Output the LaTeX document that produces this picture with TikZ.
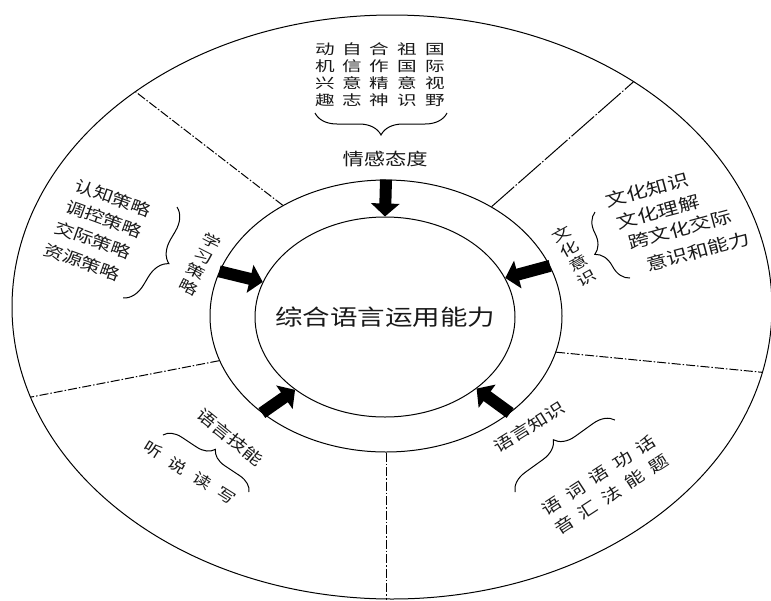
\documentclass[tikz,border=0pt]{standalone}
\usepackage{fontspec}
\newfontfamily\cjk[FakeStretch=1.25]{Noto Sans CJK SC}
\newfontfamily\cjkw[FakeStretch=1.4]{Noto Sans CJK SC}
\usetikzlibrary{shapes.geometric,arrows.meta,decorations.pathreplacing}
\begin{document}
\begin{tikzpicture}[x=1pt,y=-1pt,
  ln/.style={line width=1pt, draw=black},
  divider/.style={line width=1pt, dash pattern=on 9pt off 2pt on 1.5pt off 2pt},
  soliddiv/.style={line width=1pt, dash pattern=on 30pt off 2pt on 1.5pt off 2pt},
  fat/.style={line width=12pt, -{Triangle[length=13pt,width=28pt]}},
  br/.style={line width=1pt, decorate, decoration={brace, amplitude=#1}},
  txt/.style={font=\fontsize{16}{17}\selectfont\cjk, inner sep=0pt, align=center, text=black!90},
  stack/.style={font=\fontsize{14}{17}\selectfont\cjkw, inner sep=0pt, align=center, text=black!90},
]
\useasboundingbox (0,0) rectangle (771,600);
\fill[white] (0,0) rectangle (771,600);

% ellipses
\node[ellipse, ln, minimum width=760pt, minimum height=584pt, inner sep=0pt] (outer) at (392,307) {};
\node[ellipse, ln, minimum width=352pt, minimum height=272pt, inner sep=0pt] (ring) at (386,316) {};
\node[ellipse, ln, minimum width=260pt, minimum height=200pt, inner sep=0pt] (core) at (385,317) {};
\node[font=\fontsize{22}{24}\selectfont\cjk, text=black!90, inner sep=0pt] (ctext) at (core.center) {综合语言运用能力};

% dividers
\draw[divider] (ring.133) -- (outer.140);
\draw[soliddiv] (ring.46) -- (outer.43);
\draw[divider] (ring.-12) -- (outer.-10);
\draw[divider] (ring.195) -- (outer.194);
\draw[divider] (ring.south) -- (ring.south |- outer.south);

% arrows
\draw[fat] (ring.90) -- (core.90);
\draw[fat] (ring.165) -- (core.164);
\draw[fat] (ring.17.5) -- (core.18);
\draw[fat] (ring.218) -- (core.219);
\draw[fat] (ring.322) -- (core.322);

% top sector
\node[stack] (c1) at (325,75) {动\\机\\兴\\趣};
\node[stack] (c2) at (352,75) {自\\信\\意\\志};
\node[stack] (c3) at (379,75) {合\\作\\精\\神};
\node[stack] (c4) at (407,75) {祖\\国\\意\\识};
\node[stack] (c5) at (435,75) {国\\际\\视\\野};
\coordinate (tb1) at (447,113);
\coordinate (tb2) at (315,113);
\draw[br=22pt] (tb1) -- (tb2);
\node[txt, font=\fontsize{17}{18}\selectfont\cjk] (qg) at (385,159) {情感态度};

% left sector
\node[txt, rotate=-20] (l1) at (113,198) {认知策略};
\node[txt, rotate=-20] (l2) at (104,219) {调控策略};
\node[txt, rotate=-20] (l3) at (93,240) {交际策略};
\node[txt, rotate=-20] (l4) at (82,262) {资源策略};
\coordinate (lb1) at (177,207);
\coordinate (lb2) at (123,298);
\draw[br=22pt] (lb1) -- (lb2);
\node[stack, rotate=-27] (xx) at (200,264) {学\\习\\策\\略};

% right sector
\node[stack, rotate=29] (wh) at (574,256) {文\\化\\意\\识};
\coordinate (rb1) at (630,278);
\coordinate (rb2) at (595,212);
\draw[br=20pt] (rb1) -- (rb2);
\node[txt, font=\fontsize{17}{18}\selectfont\cjk, rotate=15] (r1) at (647,190) {文化知识};
\node[txt, font=\fontsize{17}{18}\selectfont\cjk, rotate=15] (r2) at (658,212) {文化理解};
\node[txt, font=\fontsize{17}{18}\selectfont\cjk, rotate=15] (r3) at (680,229) {跨文化交际};
\node[txt, font=\fontsize{17}{18}\selectfont\cjk, rotate=15] (r4) at (698,251) {意识和能力};

% bottom-left sector
\node[txt, rotate=-39] (yj) at (230,437) {语言技能};
\coordinate (bl1) at (163,435);
\coordinate (bl2) at (249,492);
\draw[br=17pt] (bl1) -- (bl2);
\node[txt, font=\fontsize{15}{17}\selectfont\cjk, rotate=-32] (tsdx) at (190,473) {听\hspace{10pt}说\hspace{10pt}读\hspace{10pt}写};

% bottom-right sector
\node[txt, rotate=32] (yz) at (529,427) {语言知识};
\coordinate (br1) at (515,492);
\coordinate (br2) at (615,420);
\draw[br=20pt] (br1) -- (br2);
\node[txt, font=\fontsize{16}{23}\selectfont\cjk, rotate=33] (ch) at (605,485)
  {语\hspace{8pt}词\hspace{8pt}语\hspace{8pt}功\hspace{8pt}话\\音\hspace{8pt}汇\hspace{8pt}法\hspace{8pt}能\hspace{8pt}题};
\end{tikzpicture}
\end{document}
